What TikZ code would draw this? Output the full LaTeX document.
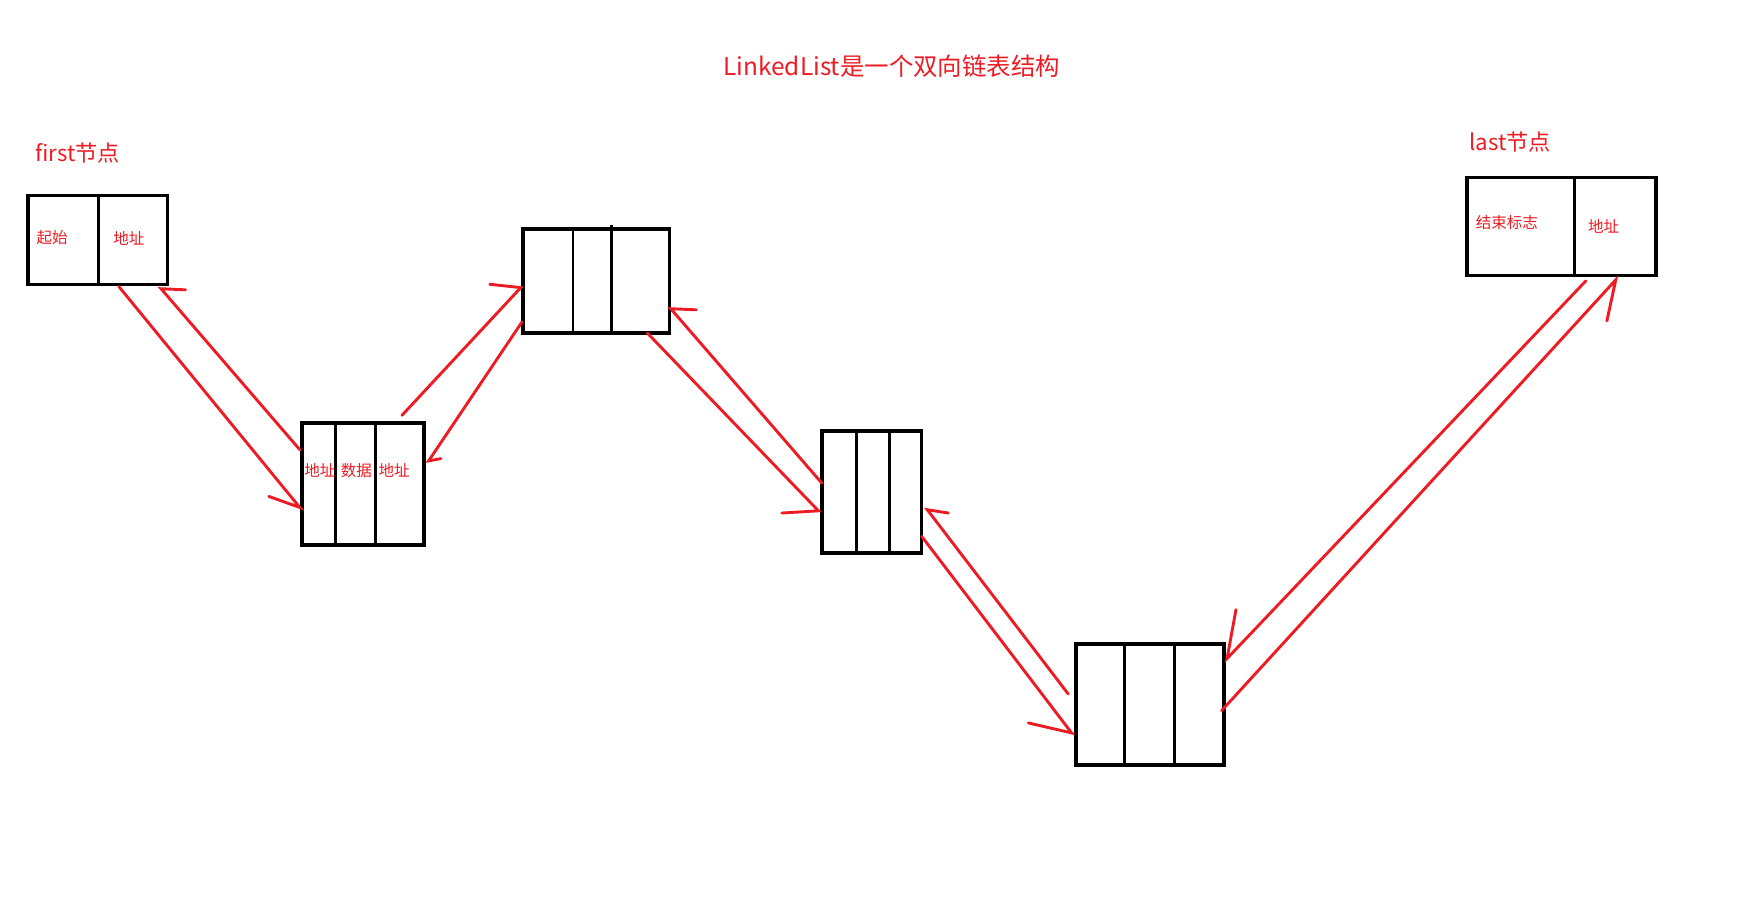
\documentclass[tikz,border=0pt]{standalone}
\usepackage{fontspec}
\setmainfont{Noto Sans CJK SC}
\definecolor{penred}{RGB}{237,28,36}
\begin{document}
\begin{tikzpicture}[x=0.5pt,y=-0.5pt,
  box/.style={draw=black,line width=1.6pt},
  div/.style={draw=black,line width=1.3pt},
  arr/.style={draw=penred,line width=1.3pt,line cap=round},
  lbl/.style={text=penred,font=\fontsize{10}{12}\selectfont,inner sep=0},
  small/.style={text=penred,font=\fontsize{7}{8}\selectfont,inner sep=0}]
\useasboundingbox (0,0) rectangle (1566,818);
\node[lbl,font=\fontsize{11}{13}\selectfont] (title) at (803,60) {LinkedList是一个双向链表结构};
\node[lbl] (first) at (70,138) {first节点};
\node[lbl] (last) at (1360,128) {last节点};
% boxes
\draw[box] (25,176) rectangle (151,256); \draw[div] (89,176)--(89,256);
\node[small] (b1a) at (47,214) {起始}; \node[small] (b1b) at (116,215) {地址};
\draw[box] (272,381) rectangle (382,491); \draw[div] (302,379)--(302,491); \draw[div] (338,381)--(338,491);
\node[small] (b2a) at (288,424) {地址}; \node[small] (b2b) at (321,424) {数据}; \node[small] (b2c) at (355,424) {地址};
\draw[box] (471,206) rectangle (603,300); \draw[div] (516,206)--(516,300); \draw[div] (551,203)--(551,300);
\draw[box] (740,388) rectangle (830,498); \draw[div] (771,388)--(771,500); \draw[div] (801,388)--(801,498);
\draw[box] (969,580) rectangle (1102,689); \draw[div] (1013,580)--(1013,689); \draw[div] (1058,580)--(1058,691);
\draw[box] (1321,160) rectangle (1491,248); \draw[div] (1418,160)--(1418,248);
\node[small] (b6a) at (1357,200) {结束标志}; \node[small] (b6b) at (1444,204) {地址};
% arrows
\draw[arr] (107,258)--(270,457)--(242,447);
\draw[arr] (270,405)--(145,260)--(167,261);
\draw[arr] (362,374)--(469,259)--(441,256);
\draw[arr] (470,290)--(386,415)--(397,413);
\draw[arr] (583,300)--(737,460)--(704,462);
\draw[arr] (740,435)--(604,278)--(627,279);
\draw[arr] (830,483)--(965,660)--(926,651);
\draw[arr] (962,625)--(835,459)--(854,462);
\draw[arr] (1100,640)--(1455,252)--(1447,289);
\draw[arr] (1428,253)--(1105,593)--(1113,549);
\end{tikzpicture}
\end{document}
